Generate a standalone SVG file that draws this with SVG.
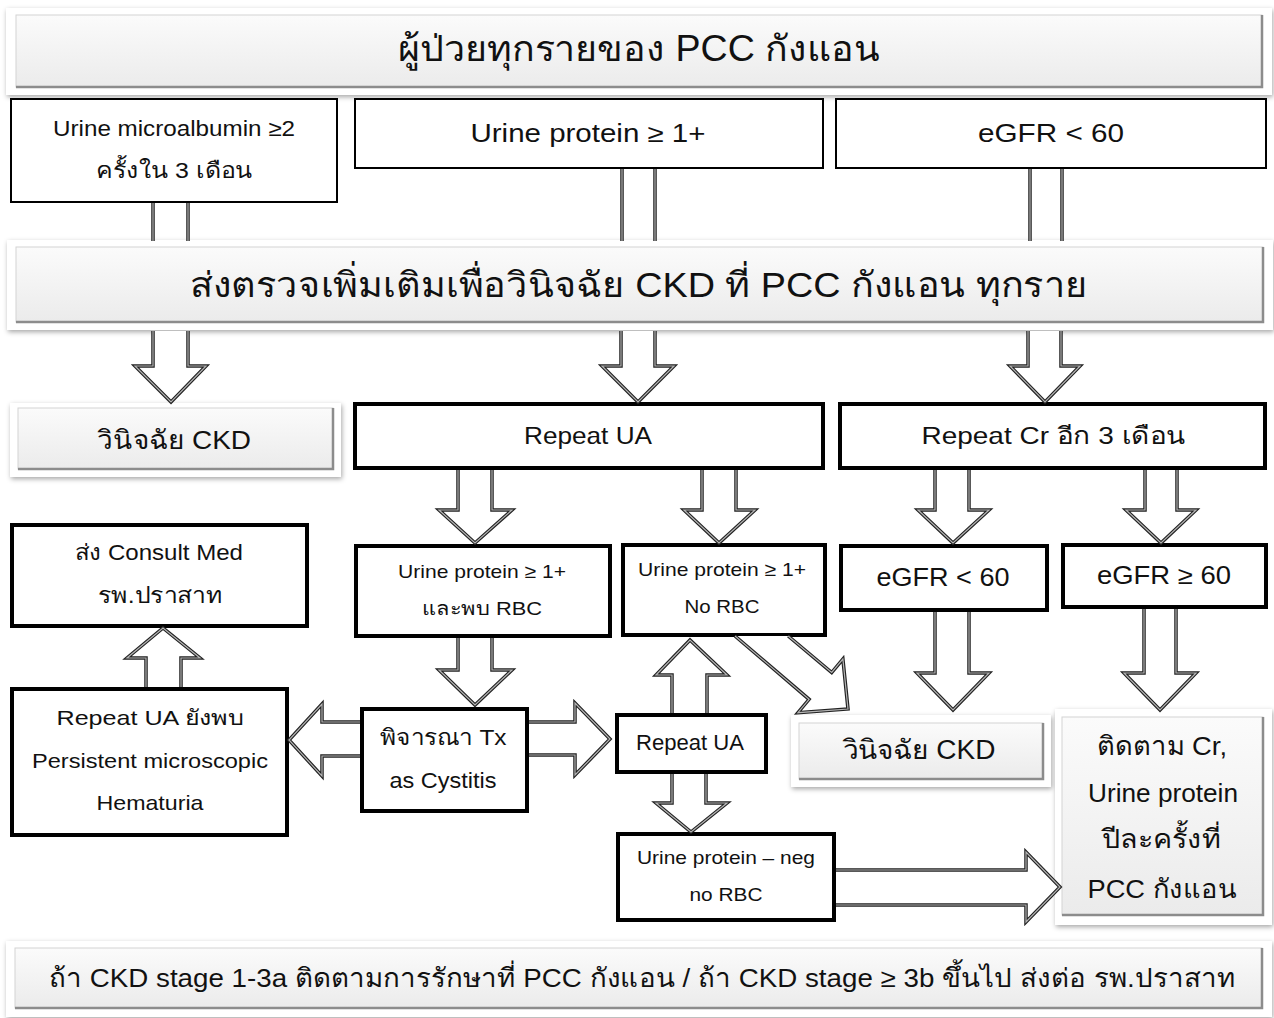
<svg xmlns="http://www.w3.org/2000/svg" width="1274" height="1018" viewBox="0 0 1274 1018">
<style>
.t{font-family:"Liberation Sans","Noto Sans","DejaVu Sans",sans-serif;fill:#111;text-anchor:middle;}
.bx{fill:#fff;stroke:#000;stroke-width:2;}
.bk{fill:#fff;stroke:#000;stroke-width:4;}
.bo{fill:#fff;filter:url(#sh);}
.bi{fill:url(#g);stroke:#d4d4d4;stroke-width:1;}
.be{fill:none;stroke:#8c8c8c;stroke-width:2.5;}
.ao{fill:#fff;stroke:#222;stroke-width:3.5;stroke-linejoin:miter;}
.ai{fill:none;stroke:#b4b4b4;stroke-width:1.2;stroke-linejoin:miter;}
</style>
<defs>
<linearGradient id="g" x1="0" y1="0" x2="0" y2="1">
<stop offset="0" stop-color="#fbfbfb"/>
<stop offset="1" stop-color="#ebebeb"/>
</linearGradient>
<filter id="sh" x="-5%" y="-20%" width="110%" height="140%">
<feDropShadow dx="1" dy="2" stdDeviation="2.5" flood-color="#000" flood-opacity="0.35"/>
</filter>
<path id="s1" d="M153,203 V241 M188,203 V241"/>
<path id="s2" d="M622,169 V241 M655,169 V241"/>
<path id="s3" d="M1030,169 V241 M1062,169 V241"/>
<path id="d1" d="M153,331 V366 H135 L171,402 L206,366 H188 V331"/>
<path id="d2" d="M621,331 V366 H602 L638,402 L674,366 H655 V331"/>
<path id="d3" d="M1028,331 V366 H1010 L1045,402 L1080,366 H1061 V331"/>
<path id="d4" d="M458,470 V510 H439 L475,543 L512,510 H492 V470"/>
<path id="d5" d="M702,470 V510 H684 L719,543 L755,510 H736 V470"/>
<path id="d6" d="M935,470 V510 H918 L953,543 L989,510 H969 V470"/>
<path id="d7" d="M1145,470 V510 H1126 L1161,543 L1196,510 H1177 V470"/>
<path id="d8" d="M458,638 V670 H439 L475,705 L512,670 H492 V638"/>
<path id="d9" d="M935,612 V673 H917 L953,710 L989,673 H969 V612"/>
<path id="d10" d="M1144,609 V673 H1124 L1160,710 L1196,673 H1176 V609"/>
<path id="d11" d="M146,687 V658 H127 L163,628 L200,658 H181 V687"/>
<path id="d12" d="M360,722 H322 V704 L289,740 L322,776 V756 H360"/>
<path id="d13" d="M529,722 H575 V703 L610,739 L575,775 V755 H529"/>
<path id="d14" d="M672,713 V675 H656 L690,640 L727,675 H707 V713"/>
<path id="d15" d="M672,774 V803 H656 L691,832 L727,803 H706 V774"/>
<path id="d16" d="M836,870 H1026 V852 L1060,887 L1026,922 V905 H836"/>
<path id="d17" d="M735,636 L809.1,699.3 L797.9,712.7 L848,709 L842.9,659.1 L831.7,672.5 L788.2,636"/>
</defs>

<g id="nodes">
<g id="n-title">
<rect class="bo" x="6" y="8" width="1266" height="87"/>
<rect class="bi" x="16" y="15" width="1246" height="72"/>
<path class="be" d="M16,87 H1262 V15"/>
<text class="t" x="639" y="61" font-size="36" textLength="482" lengthAdjust="spacingAndGlyphs">ผู้ป่วยทุกรายของ PCC กังแอน</text>
</g>
<g id="n-microalb">
<rect class="bx" x="11" y="99" width="326" height="103"/>
<text class="t" x="174" y="136" font-size="22" textLength="242" lengthAdjust="spacingAndGlyphs">Urine microalbumin ≥2</text>
<text class="t" x="174" y="178" font-size="22" textLength="157" lengthAdjust="spacingAndGlyphs">ครั้งใน 3 เดือน</text>
</g>
<g id="n-protein">
<rect class="bx" x="355" y="99" width="468" height="69"/>
<text class="t" x="588" y="142" font-size="25" textLength="235" lengthAdjust="spacingAndGlyphs">Urine protein ≥ 1+</text>
</g>
<g id="n-egfr">
<rect class="bx" x="836" y="99" width="430" height="69"/>
<text class="t" x="1051" y="142" font-size="25" textLength="146" lengthAdjust="spacingAndGlyphs">eGFR &lt; 60</text>
</g>
<g id="n-send">
<rect class="bo" x="7" y="240" width="1266" height="90"/>
<rect class="bi" x="16" y="247" width="1247" height="75"/>
<path class="be" d="M16,322 H1263 V247"/>
<text class="t" x="639" y="297" font-size="35" textLength="898" lengthAdjust="spacingAndGlyphs">ส่งตรวจเพิ่มเติมเพื่อวินิจฉัย CKD ที่ PCC กังแอน ทุกราย</text>
</g>
<g id="n-ckd1">
<rect class="bo" x="10" y="403" width="331" height="74"/>
<rect class="bi" x="18" y="408" width="315" height="61"/>
<path class="be" d="M18,469 H333 V408"/>
<text class="t" x="174" y="449" font-size="26" textLength="154" lengthAdjust="spacingAndGlyphs">วินิจฉัย CKD</text>
</g>
<g id="n-repeatua">
<rect class="bk" x="355" y="404" width="468" height="64"/>
<text class="t" x="588" y="444" font-size="24" textLength="128" lengthAdjust="spacingAndGlyphs">Repeat UA</text>
</g>
<g id="n-repeatcr">
<rect class="bk" x="840" y="404" width="425" height="64"/>
<text class="t" x="1053" y="444" font-size="24" textLength="263" lengthAdjust="spacingAndGlyphs">Repeat Cr อีก 3 เดือน</text>
</g>
<g id="n-consult">
<rect class="bk" x="12" y="525" width="295" height="101"/>
<text class="t" x="159" y="560" font-size="22" textLength="168" lengthAdjust="spacingAndGlyphs">ส่ง Consult Med</text>
<text class="t" x="160" y="603" font-size="22" textLength="125" lengthAdjust="spacingAndGlyphs">รพ.ปราสาท</text>
</g>
<g id="n-rbc">
<rect class="bk" x="356" y="546" width="254" height="90"/>
<text class="t" x="482" y="578" font-size="19" textLength="168" lengthAdjust="spacingAndGlyphs">Urine protein ≥ 1+</text>
<text class="t" x="482" y="615" font-size="19" textLength="120" lengthAdjust="spacingAndGlyphs">และพบ RBC</text>
</g>
<g id="n-norbc">
<rect class="bk" x="623" y="545" width="202" height="90"/>
<text class="t" x="722" y="576" font-size="19" textLength="168" lengthAdjust="spacingAndGlyphs">Urine protein ≥ 1+</text>
<text class="t" x="722" y="613" font-size="19" textLength="75" lengthAdjust="spacingAndGlyphs">No RBC</text>
</g>
<g id="n-egfrlt">
<rect class="bk" x="841" y="546" width="206" height="64"/>
<text class="t" x="943" y="586" font-size="25" textLength="133" lengthAdjust="spacingAndGlyphs">eGFR &lt; 60</text>
</g>
<g id="n-egfrge">
<rect class="bk" x="1063" y="545" width="203" height="62"/>
<text class="t" x="1164" y="584" font-size="25" textLength="134" lengthAdjust="spacingAndGlyphs">eGFR ≥ 60</text>
</g>
<g id="n-hematuria">
<rect class="bk" x="12" y="689" width="275" height="146"/>
<text class="t" x="150" y="725" font-size="21" textLength="187" lengthAdjust="spacingAndGlyphs">Repeat UA ยังพบ</text>
<text class="t" x="150" y="768" font-size="21" textLength="236" lengthAdjust="spacingAndGlyphs">Persistent microscopic</text>
<text class="t" x="150" y="810" font-size="21" textLength="107" lengthAdjust="spacingAndGlyphs">Hematuria</text>
</g>
<g id="n-cystitis">
<rect class="bk" x="362" y="709" width="165" height="102"/>
<text class="t" x="443" y="745" font-size="22" textLength="127" lengthAdjust="spacingAndGlyphs">พิจารณา Tx</text>
<text class="t" x="443" y="788" font-size="22" textLength="107" lengthAdjust="spacingAndGlyphs">as Cystitis</text>
</g>
<g id="n-repeatua2">
<rect class="bk" x="617" y="715" width="149" height="57"/>
<text class="t" x="690" y="750" font-size="22" textLength="108" lengthAdjust="spacingAndGlyphs">Repeat UA</text>
</g>
<g id="n-ckd2">
<rect class="bo" x="791" y="715" width="260" height="72"/>
<rect class="bi" x="799" y="723" width="244" height="56"/>
<path class="be" d="M799,779 H1043 V723"/>
<text class="t" x="919" y="759" font-size="27" textLength="153" lengthAdjust="spacingAndGlyphs">วินิจฉัย CKD</text>
</g>
<g id="n-follow">
<rect class="bo" x="1055" y="709" width="217" height="216"/>
<rect class="bi" x="1062" y="717" width="201" height="198"/>
<path class="be" d="M1062,915 H1263 V717"/>
<text class="t" x="1162" y="755" font-size="26" textLength="130" lengthAdjust="spacingAndGlyphs">ติดตาม Cr,</text>
<text class="t" x="1163" y="802" font-size="26" textLength="150" lengthAdjust="spacingAndGlyphs">Urine protein</text>
<text class="t" x="1161" y="848" font-size="26" textLength="119" lengthAdjust="spacingAndGlyphs">ปีละครั้งที่</text>
<text class="t" x="1162" y="898" font-size="26" textLength="149" lengthAdjust="spacingAndGlyphs">PCC กังแอน</text>
</g>
<g id="n-neg">
<rect class="bk" x="618" y="834" width="216" height="86"/>
<text class="t" x="726" y="864" font-size="19" textLength="178" lengthAdjust="spacingAndGlyphs">Urine protein – neg</text>
<text class="t" x="726" y="901" font-size="19" textLength="73" lengthAdjust="spacingAndGlyphs">no RBC</text>
</g>
<g id="n-footer">
<rect class="bo" x="6" y="941" width="1266" height="76"/>
<rect class="bi" x="15" y="948" width="1247" height="60"/>
<path class="be" d="M15,1008 H1262 V948"/>
<text class="t" x="642" y="987" font-size="26" textLength="1186" lengthAdjust="spacingAndGlyphs">ถ้า CKD stage 1-3a ติดตามการรักษาที่ PCC กังแอน / ถ้า CKD stage ≥ 3b ขึ้นไป ส่งต่อ รพ.ปราสาท</text>
</g>
</g>

<g id="connectors">
<use href="#s1" class="ao"/><use href="#s1" class="ai"/>
<use href="#s2" class="ao"/><use href="#s2" class="ai"/>
<use href="#s3" class="ao"/><use href="#s3" class="ai"/>
<use href="#d1" class="ao"/><use href="#d1" class="ai"/>
<use href="#d2" class="ao"/><use href="#d2" class="ai"/>
<use href="#d3" class="ao"/><use href="#d3" class="ai"/>
<use href="#d4" class="ao"/><use href="#d4" class="ai"/>
<use href="#d5" class="ao"/><use href="#d5" class="ai"/>
<use href="#d6" class="ao"/><use href="#d6" class="ai"/>
<use href="#d7" class="ao"/><use href="#d7" class="ai"/>
<use href="#d8" class="ao"/><use href="#d8" class="ai"/>
<use href="#d9" class="ao"/><use href="#d9" class="ai"/>
<use href="#d10" class="ao"/><use href="#d10" class="ai"/>
<use href="#d11" class="ao"/><use href="#d11" class="ai"/>
<use href="#d12" class="ao"/><use href="#d12" class="ai"/>
<use href="#d13" class="ao"/><use href="#d13" class="ai"/>
<use href="#d14" class="ao"/><use href="#d14" class="ai"/>
<use href="#d15" class="ao"/><use href="#d15" class="ai"/>
<use href="#d16" class="ao"/><use href="#d16" class="ai"/>
<use href="#d17" class="ao"/><use href="#d17" class="ai"/>
</g>
</svg>
